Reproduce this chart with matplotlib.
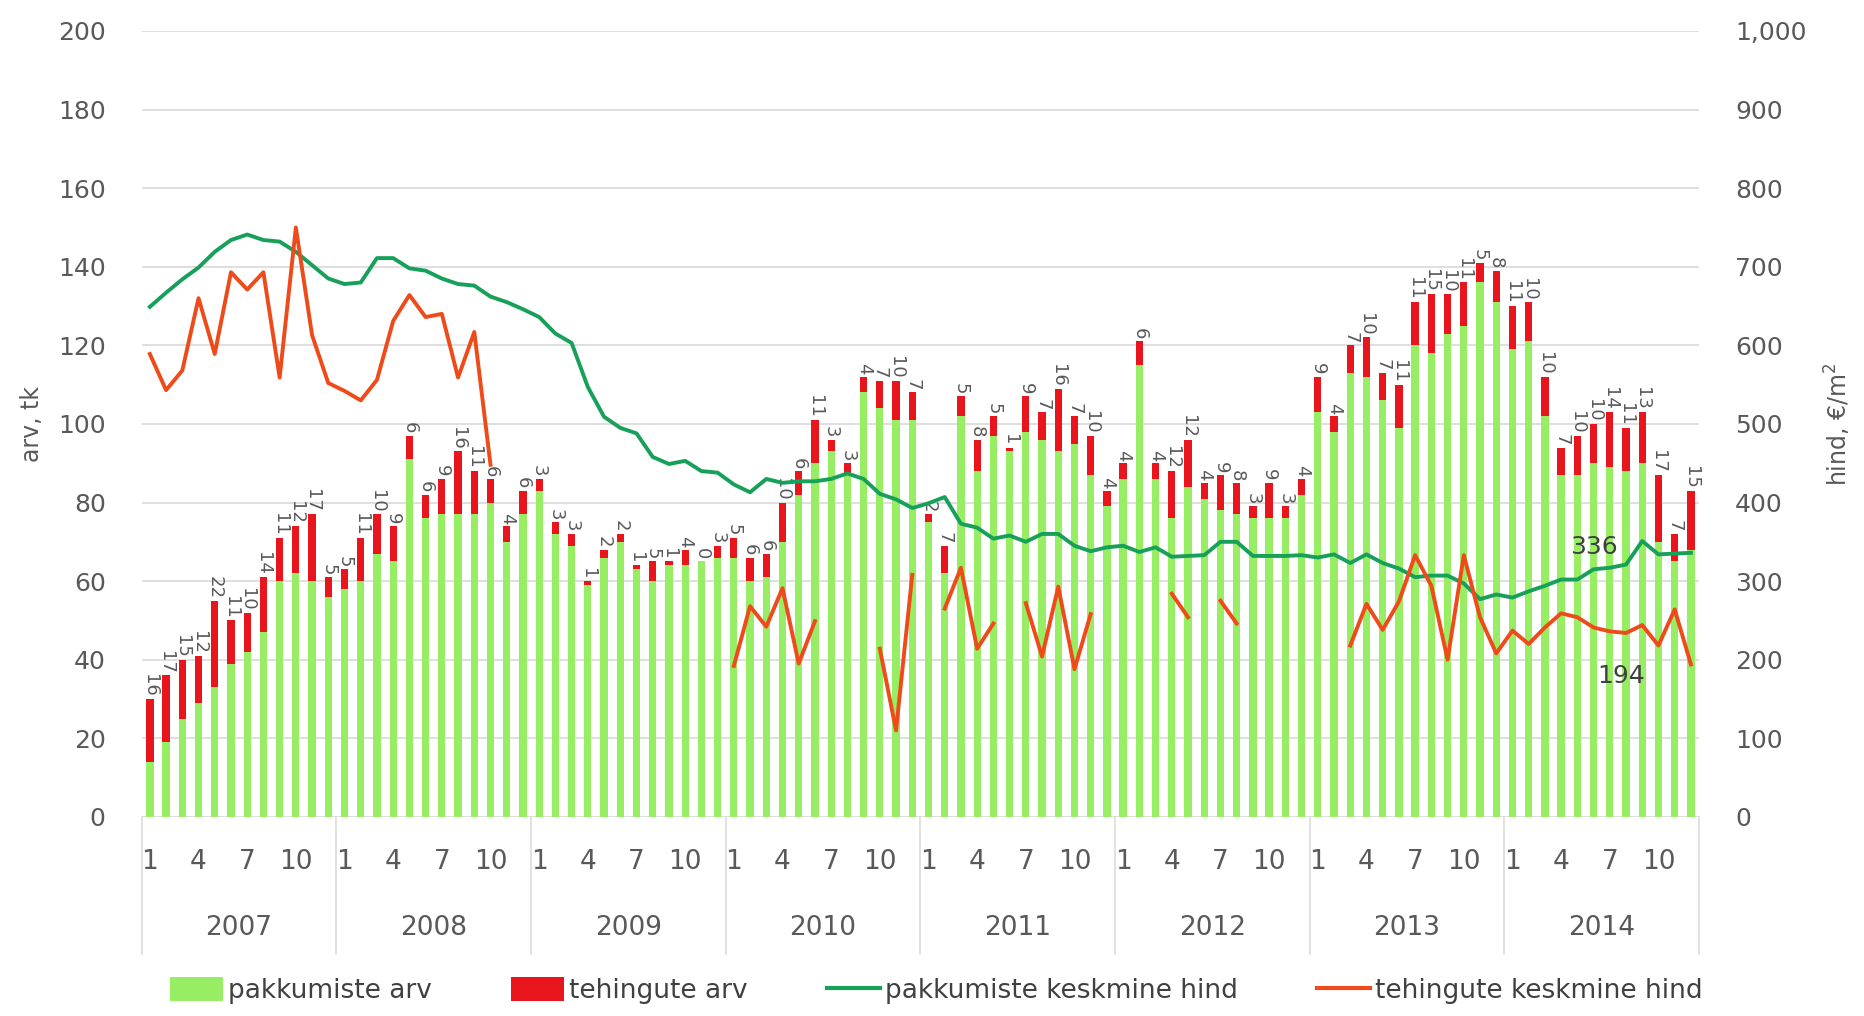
import numpy as np
import matplotlib
matplotlib.use("Agg")
import matplotlib.pyplot as plt
from matplotlib.patches import Patch
from matplotlib.lines import Line2D
from matplotlib.ticker import FuncFormatter
import matplotlib.transforms as mtransforms

# ---------------- data ----------------
years = ["2007", "2008", "2009", "2010", "2011", "2012", "2013", "2014"]
month_ticks = ["1", "4", "7", "10"]

pakkumiste_arv = [
    14, 19, 25, 29, 33, 39, 42, 47, 60, 62, 60, 56,
    58, 60, 67, 65, 91, 76, 77, 77, 77, 80, 70, 77,
    83, 72, 69, 59, 66, 70, 63, 60, 64, 64, 65, 66,
    66, 60, 61, 70, 82, 90, 93, 87, 108, 104, 101, 101,
    75, 62, 102, 88, 97, 93, 98, 96, 93, 95, 87, 79,
    86, 115, 86, 76, 84, 81, 78, 77, 76, 76, 76, 82,
    103, 98, 113, 112, 106, 99, 120, 118, 123, 125, 136, 131,
    119, 121, 102, 87, 87, 90, 89, 88, 90, 70, 65, 68,
]

tehingute_arv = [
    16, 17, 15, 12, 22, 11, 10, 14, 11, 12, 17, 5,
    5, 11, 10, 9, 6, 6, 9, 16, 11, 6, 4, 6,
    3, 3, 3, 1, 2, 2, 1, 5, 1, 4, 0, 3,
    5, 6, 6, 10, 6, 11, 3, 3, 4, 7, 10, 7,
    2, 7, 5, 8, 5, 1, 9, 7, 16, 7, 10, 4,
    4, 6, 4, 12, 12, 4, 9, 8, 3, 9, 3, 4,
    9, 4, 7, 10, 7, 11, 11, 15, 10, 11, 5, 8,
    11, 10, 10, 7, 10, 10, 14, 11, 13, 17, 7, 15,
]

pakkumiste_hind = [
    649, 667, 684, 699, 719, 734, 741, 734, 732, 719, 702, 685,
    678, 680, 711, 711, 698, 695, 685, 678, 676, 662, 655, 646,
    636, 615, 603, 547, 509, 495, 488, 458, 449, 453, 440, 438,
    423, 413, 430, 425, 427, 427, 430, 437, 430, 411, 404, 393,
    399, 407, 373, 368, 354, 358, 350, 360, 360, 345, 338, 343,
    345, 337, 343, 331, 332, 333, 350, 350, 332, 332, 332, 333,
    330, 334, 323, 334, 323, 316, 305, 307, 307, 297, 277, 283,
    279, 287, 294, 302, 302, 315, 317, 321, 351, 334, 335, 336,
]

nan = np.nan
tehingute_hind = [
    589, 543, 568, 660, 589, 693, 671, 693, 559, 750, 613, 552,
    542, 530, 556, 631, 664, 636, 640, 559, 617, 448, nan, nan,
    nan, nan, nan, nan, nan, nan, nan, nan, nan, nan, nan, nan,
    192, 268, 242, 291, 195, 249, nan, nan, nan, 214, 110, 308,
    nan, 265, 317, 214, 246, nan, 272, 204, 293, 188, 258, nan,
    nan, nan, nan, 284, 254, nan, 275, 246, nan, nan, nan, nan,
    nan, nan, 218, 271, 238, 274, 333, 294, 200, 333, 254, 208,
    237, 220, 241, 259, 254, 241, 236, 234, 244, 218, 264, 194,
]

legend_labels = ["pakkumiste arv", "tehingute arv",
                 "pakkumiste keskmine hind", "tehingute keskmine hind"]

# ---------------- style ----------------
C_GREEN_BAR = "#98EE62"
C_RED_BAR = "#E8161C"
C_GREEN_LINE = "#17A05A"
C_RED_LINE = "#EE4A1A"
C_TEXT = "#595959"
C_GRID = "#DCDCDC"

plt.rcParams["font.family"] = ["DejaVu Sans"]

fig = plt.figure(figsize=(18.65, 10.16), dpi=100)
fig.patch.set_facecolor("white")
ax = fig.add_axes([0.076, 0.196, 0.835, 0.7735])
ax2 = ax.twinx()

n = len(pakkumiste_arv)
x = np.arange(n)
g = np.array(pakkumiste_arv, dtype=float)
r = np.array(tehingute_arv, dtype=float)

ax.bar(x, g, width=0.45, color=C_GREEN_BAR, zorder=2)
ax.bar(x, r, bottom=g, width=0.45, color=C_RED_BAR, zorder=2)

for i in range(n):
    ax.text(x[i], g[i] + r[i] + 0.5, str(tehingute_arv[i]), rotation=270,
            ha="center", va="bottom", fontsize=13, color=C_TEXT, zorder=3)

ax2.plot(x, pakkumiste_hind, color=C_GREEN_LINE, lw=2.8, solid_joinstyle="round")
ax2.plot(x, tehingute_hind, color=C_RED_LINE, lw=2.8, solid_joinstyle="round")

ax2.annotate(str(pakkumiste_hind[-1]), (x[-1], pakkumiste_hind[-1]),
             xytext=(-70, 4), textcoords="offset points", ha="center",
             va="center", fontsize=18, color="#404040")
ax2.annotate(str(tehingute_hind[-1]), (x[-1], tehingute_hind[-1]),
             xytext=(-50, -8), textcoords="offset points", ha="center",
             va="center", fontsize=18, color="#404040")

ax.set_xlim(-0.5, n - 0.5)
ax.set_ylim(0, 200)
ax2.set_ylim(0, 1000)
ax.set_yticks(np.arange(0, 201, 20))
ax2.set_yticks(np.arange(0, 1001, 100))
ax2.yaxis.set_major_formatter(FuncFormatter(lambda v, p: f"{int(v):,}"))
ax.set_xticks([])

ax.grid(axis="y", color=C_GRID, lw=1.3, zorder=0)
ax.set_axisbelow(True)
for a in (ax, ax2):
    for s in a.spines.values():
        s.set_visible(False)
ax.tick_params(axis="y", length=0, labelsize=18, labelcolor=C_TEXT, pad=26)
ax2.tick_params(axis="y", length=0, labelsize=18, labelcolor=C_TEXT, pad=26)

ax.set_ylabel("arv, tk", fontsize=17, color=C_TEXT, labelpad=10)
ax2.set_ylabel("hind, €/m$^2$", fontsize=17, color=C_TEXT, labelpad=12)

# category axis: months and years
trans = mtransforms.blended_transform_factory(ax.transData, ax.transAxes)
for i in range(n):
    m = i % 12
    if m % 3 == 0:
        ax.text(i, -0.058, month_ticks[m // 3], transform=trans, ha="center",
                va="center", fontsize=19, color=C_TEXT)
for k, yr in enumerate(years):
    ax.text(12 * k + 5.5, -0.142, yr, transform=trans, ha="center",
            va="center", fontsize=19, color=C_TEXT)
for k in range(len(years) + 1):
    b = 12 * k - 0.5
    ax.plot([b, b], [0, -0.175], transform=trans, color=C_GRID, lw=1.2,
            clip_on=False)

handles = [Patch(facecolor=C_GREEN_BAR), Patch(facecolor=C_RED_BAR),
           Line2D([], [], color=C_GREEN_LINE, lw=3),
           Line2D([], [], color=C_RED_LINE, lw=3)]
leg = fig.legend(handles, legend_labels, loc="center",
                 bbox_to_anchor=(0.502, 0.025), ncol=4, frameon=False,
                 fontsize=19, handlelength=2.0, handleheight=1.0,
                 columnspacing=3.0, handletextpad=0.2)
for t in leg.get_texts():
    t.set_color("#404040")

fig.savefig("out.png", dpi=100, facecolor="white")
